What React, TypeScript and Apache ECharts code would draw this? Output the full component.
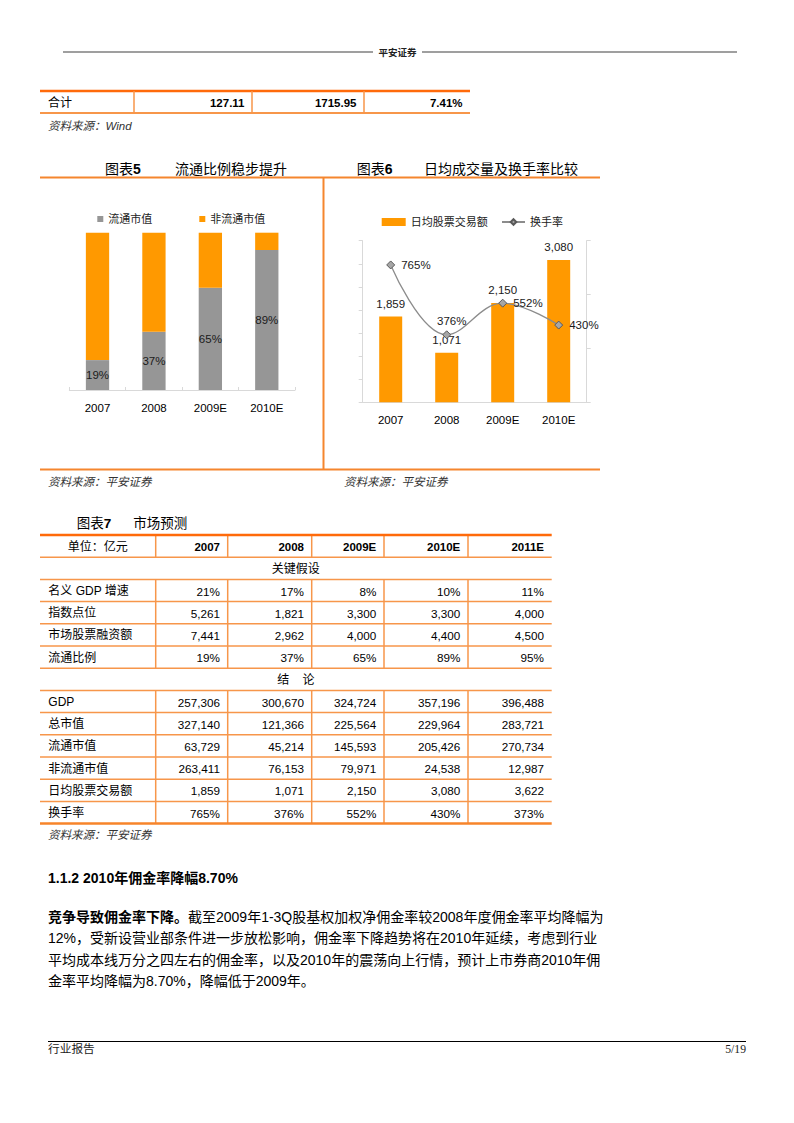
import React, { useEffect, useRef } from "react";
import * as echarts from "echarts";

// ---------- data ----------
const totalRowLabel = "合计";
const totalRowValues = [127.11, 1715.95, 7.41]; // last is percent

const chartYears = ["2007", "2008", "2009E", "2010E"];
const floatRatio = [19, 37, 65, 89]; // 流通市值 %
const nonFloatRatio = [81, 63, 35, 11]; // 非流通市值 %
const dailyTurnover = [1859, 1071, 2150, 3080]; // 日均股票交易额
const turnoverRate = [765, 376, 552, 430]; // 换手率 %

const tableYears = ["2007", "2008", "2009E", "2010E", "2011E"];
const gdpGrowth = [21, 17, 8, 10, 11];
const indexLevel = [5261, 1821, 3300, 3300, 4000];
const equityFinancing = [7441, 2962, 4000, 4400, 4500];
const floatRatioTable = [19, 37, 65, 89, 95];
const gdp = [257306, 300670, 324724, 357196, 396488];
const totalMktCap = [327140, 121366, 225564, 229964, 283721];
const floatMktCap = [63729, 45214, 145593, 205426, 270734];
const nonFloatMktCap = [263411, 76153, 79971, 24538, 12987];
const dailyTurnoverTable = [1859, 1071, 2150, 3080, 3622];
const turnoverRateTable = [765, 376, 552, 430, 373];

// ---------- styling ----------
const FONT = '"Liberation Sans", Arial, "Noto Sans CJK SC", sans-serif';
const ORANGE = "#FF9900";
const GRAY = "#969696";
const LINE_THICK = "#FF6A0A";
const LINE_THIN = "#F7964A";
const FRAME = "#F5862E";

const fmtNum = (v: number) => v.toLocaleString("en-US");
const fmtPct = (v: number) => v + "%";

function txt(x: number, y: number, text: string, o: any = {}) {
  const align = o.align || "left";
  return {
    type: "text",
    x,
    y,
    silent: true,
    z: 10,
    style: {
      text,
      fill: o.color || "#000",
      fontSize: o.size || 12,
      fontFamily: o.family || FONT,
      fontWeight: o.weight || "normal",
      fontStyle: o.fstyle || "normal",
      align,
      textAlign: align,
      verticalAlign: "middle",
      textVerticalAlign: "middle",
      rich: o.rich,
    },
  };
}
function hline(x1: number, x2: number, y: number, color: string, w: number) {
  return { type: "line", silent: true, z: 5, shape: { x1, y1: y, x2, y2: y }, style: { stroke: color, lineWidth: w } };
}
function vline(x: number, y1: number, y2: number, color: string, w: number) {
  return { type: "line", silent: true, z: 5, shape: { x1: x, y1, x2: x, y2 }, style: { stroke: color, lineWidth: w } };
}

function buildGraphics() {
  const g: any[] = [];
  // header
  g.push(hline(63, 373, 52, "#7f7f7f", 1.5));
  g.push(hline(422, 737, 52, "#7f7f7f", 1.5));
  g.push(txt(397.5, 52, "平安证券", { align: "center", size: 9.5, weight: "bold", color: "#222" }));

  // top table (合计)
  const tCols = [40, 134, 252, 364, 470];
  const tTop = 91, tBot = 113;
  g.push(hline(40, 470, tTop, LINE_THICK, 2.5));
  g.push(hline(40, 470, tBot, LINE_THIN, 2));
  for (let i = 1; i < 4; i++) g.push(vline(tCols[i], tTop, tBot, LINE_THIN, 1.5));
  const ty = (tTop + tBot) / 2 + 0.5;
  g.push(txt(48, ty, totalRowLabel, { size: 12 }));
  totalRowValues.forEach((v, i) => {
    const s = i === 2 ? v.toFixed(2) + "%" : v.toFixed(2);
    g.push(txt(tCols[i + 2] - 7.5, ty, s, { align: "right", weight: "bold", size: 11.5 }));
  });
  g.push(txt(48, 125.5, "资料来源：Wind", { fstyle: "italic", color: "#333", size: 11.5 }));

  // chart frames and titles
  g.push(hline(40, 600, 177.5, FRAME, 2));
  g.push(vline(323.5, 177.5, 469.5, FRAME, 2));
  g.push(hline(40, 600, 469.5, FRAME, 2));
  const titleRich = { b: { fontWeight: "bold", fontSize: 14, fontFamily: FONT, fill: "#000" } };
  g.push(txt(105, 169, "图表{b|5}", { size: 14, rich: titleRich }));
  g.push(txt(175, 169, "流通比例稳步提升", { size: 14 }));
  g.push(txt(356.7, 169, "图表{b|6}", { size: 14, rich: titleRich }));
  g.push(txt(424, 169, "日均成交量及换手率比较", { size: 14 }));
  g.push(txt(48, 481.5, "资料来源：平安证券", { fstyle: "italic", color: "#333", size: 11.5 }));
  g.push(txt(344, 481.5, "资料来源：平安证券", { fstyle: "italic", color: "#333", size: 11.5 }));

  // table 7
  g.push(txt(76.7, 523.5, "图表{b|7}", { size: 13.5, rich: { b: { fontWeight: "bold", fontSize: 13.5, fontFamily: FONT, fill: "#000" } } }));
  g.push(txt(133.3, 523.5, "市场预测", { size: 13.5 }));
  const cols = [40, 155.7, 227.7, 311.7, 384, 468, 551.7];
  const top = 535, rh = 22.2;
  type Row = { kind: "header" | "section" | "data"; label: string; values?: number[]; fmt?: (v: number) => string };
  const rows: Row[] = [
    { kind: "header", label: "单位：亿元" },
    { kind: "section", label: "关键假设" },
    { kind: "data", label: "名义 GDP 增速", values: gdpGrowth, fmt: fmtPct },
    { kind: "data", label: "指数点位", values: indexLevel, fmt: fmtNum },
    { kind: "data", label: "市场股票融资额", values: equityFinancing, fmt: fmtNum },
    { kind: "data", label: "流通比例", values: floatRatioTable, fmt: fmtPct },
    { kind: "section", label: "结    论" },
    { kind: "data", label: "GDP", values: gdp, fmt: fmtNum },
    { kind: "data", label: "总市值", values: totalMktCap, fmt: fmtNum },
    { kind: "data", label: "流通市值", values: floatMktCap, fmt: fmtNum },
    { kind: "data", label: "非流通市值", values: nonFloatMktCap, fmt: fmtNum },
    { kind: "data", label: "日均股票交易额", values: dailyTurnoverTable, fmt: fmtNum },
    { kind: "data", label: "换手率", values: turnoverRateTable, fmt: fmtPct },
  ];
  const bottom = top + rows.length * rh;
  rows.forEach((r, i) => {
    const y0 = top + i * rh;
    const y1 = y0 + rh;
    const cy = y0 + rh / 2 + 0.5;
    if (i > 0) g.push(hline(40, 551.7, y0, LINE_THIN, 1.5));
    if (r.kind !== "section") {
      for (let c = 1; c < cols.length - 1; c++) g.push(vline(cols[c], y0, y1, LINE_THIN, 1.5));
    }
    if (r.kind === "header") {
      g.push(txt((cols[0] + cols[1]) / 2, cy, r.label, { align: "center", size: 12 }));
      tableYears.forEach((yr, j) => g.push(txt(cols[j + 2] - 7.7, cy, yr, { align: "right", weight: "bold", size: 11.5 })));
    } else if (r.kind === "section") {
      g.push(txt((cols[0] + cols[cols.length - 1]) / 2, cy, r.label, { align: "center", size: 12 }));
    } else {
      g.push(txt(48.3, cy, r.label, { size: 12 }));
      (r.values || []).forEach((v, j) =>
        g.push(txt(cols[j + 2] - 7.7, cy, r.fmt!(v), { align: "right", size: 11.7 }))
      );
    }
  });
  g.push(hline(40, 551.7, top, LINE_THICK, 2.5));
  g.push(hline(40, 551.7, bottom, "#F7842A", 2.5));
  g.push(txt(48, bottom + 11, "资料来源：平安证券", { fstyle: "italic", color: "#333", size: 11.5 }));

  // section heading and paragraph
  g.push(txt(48, 877.5, "1.1.2 2010年佣金率降幅8.70%", { size: 14, weight: "bold" }));
  const pRich = { b: { fontWeight: "bold", fontSize: 14, fontFamily: FONT, fill: "#000" } };
  const paraLines = [
    "{b|竞争导致佣金率下降。}截至2009年1-3Q股基权加权净佣金率较2008年度佣金率平均降幅为",
    "12%，受新设营业部条件进一步放松影响，佣金率下降趋势将在2010年延续，考虑到行业",
    "平均成本线万分之四左右的佣金率，以及2010年的震荡向上行情，预计上市券商2010年佣",
    "金率平均降幅为8.70%，降幅低于2009年。",
  ];
  paraLines.forEach((l, i) => g.push(txt(48, 917 + i * 21.3, l, { size: 14, rich: pRich })));

  // footer
  g.push(hline(48, 746, 1041.5, "#000", 1));
  g.push(txt(48, 1049, "行业报告", { size: 11.7, color: "#222", family: '"Liberation Serif", "Noto Sans CJK SC", serif' }));
  g.push(txt(746, 1049, "5/19", { size: 11.7, align: "right", color: "#222", family: '"Liberation Serif", serif' }));
  return g;
}

function buildOption(): any {
  const axisGray = "#D9D9D9";
  return {
    animation: false,
    backgroundColor: "#fff",
    textStyle: { fontFamily: FONT },
    legend: [
      {
        data: ["流通市值", "非流通市值"],
        left: 97.3,
        top: 213.5,
        padding: 0,
        icon: "rect",
        itemWidth: 6,
        itemHeight: 6,
        itemGap: 47,
        textStyle: { fontSize: 11, color: "#222", fontFamily: FONT },
      },
      {
        data: ["日均股票交易额"],
        left: 381.7,
        top: 216.5,
        padding: 0,
        icon: "rect",
        itemWidth: 24,
        itemHeight: 8,
        textStyle: { fontSize: 11, color: "#222", fontFamily: FONT },
      },
      {
        data: ["换手率"],
        left: 501,
        top: 216.5,
        padding: 0,
        itemWidth: 23,
        itemHeight: 7,
        textStyle: { fontSize: 11, color: "#222", fontFamily: FONT },
      },
    ],
    grid: [
      { left: 69.3, top: 232.7, width: 225.7, height: 157.3, containLabel: false },
      { left: 362.7, top: 240.7, width: 224, height: 161.6, containLabel: false },
    ],
    xAxis: [
      {
        type: "category",
        gridIndex: 0,
        data: chartYears,
        axisLine: { lineStyle: { color: axisGray, width: 1 } },
        axisTick: { show: true, inside: true, length: 3, lineStyle: { color: axisGray } },
        axisLabel: { color: "#000", fontSize: 11.5, margin: 12, fontFamily: FONT },
      },
      {
        type: "category",
        gridIndex: 1,
        data: chartYears,
        axisLine: { lineStyle: { color: axisGray, width: 1 } },
        axisTick: { show: false },
        axisLabel: { color: "#000", fontSize: 11.5, margin: 12, fontFamily: FONT },
      },
    ],
    yAxis: [
      { type: "value", gridIndex: 0, min: 0, max: 100, show: false },
      {
        type: "value",
        gridIndex: 1,
        min: 0,
        max: 3500,
        interval: 500,
        axisLine: { show: true, lineStyle: { color: axisGray } },
        axisTick: { show: true, length: 4, lineStyle: { color: axisGray } },
        axisLabel: { show: false },
        splitLine: { show: false },
      },
      {
        type: "value",
        gridIndex: 1,
        position: "right",
        min: 0,
        max: 900,
        interval: 300,
        axisLine: { show: true, lineStyle: { color: axisGray } },
        axisTick: { show: true, length: 4, lineStyle: { color: axisGray } },
        axisLabel: { show: false },
        splitLine: { show: false },
      },
    ],
    series: [
      {
        name: "流通市值",
        type: "bar",
        xAxisIndex: 0,
        yAxisIndex: 0,
        stack: "share",
        barWidth: 23.3,
        data: floatRatio,
        itemStyle: { color: GRAY },
        label: { show: true, position: "inside", formatter: "{c}%", color: "#1a1a1a", fontSize: 11.5, fontFamily: FONT },
      },
      {
        name: "非流通市值",
        type: "bar",
        xAxisIndex: 0,
        yAxisIndex: 0,
        stack: "share",
        barWidth: 23.3,
        data: nonFloatRatio,
        itemStyle: { color: ORANGE },
      },
      {
        name: "日均股票交易额",
        type: "bar",
        xAxisIndex: 1,
        yAxisIndex: 1,
        barWidth: 23,
        data: dailyTurnover,
        itemStyle: { color: ORANGE },
        label: {
          show: true,
          position: "top",
          distance: 7,
          color: "#1a1a1a",
          fontSize: 11.5,
          fontFamily: FONT,
          formatter: (p: any) => fmtNum(p.value),
        },
      },
      {
        name: "换手率",
        type: "line",
        xAxisIndex: 1,
        yAxisIndex: 2,
        smooth: 0.4,
        z: 5,
        symbol: "diamond",
        symbolSize: 8,
        data: turnoverRate.map((v, i) =>
          i === 1 ? { value: v, label: { position: "top", distance: 4, offset: [5, 0] } } : v
        ),
        lineStyle: { color: "#8C8C8C", width: 1.3 },
        itemStyle: { color: "#A6A6A6", borderColor: "#595959", borderWidth: 1 },
        label: {
          show: true,
          position: "right",
          distance: 6,
          color: "#1a1a1a",
          fontSize: 11.5,
          fontFamily: FONT,
          formatter: (p: any) => p.value + "%",
        },
      },
    ],
    graphic: buildGraphics(),
  };
}

export default function App() {
  const ref = useRef<HTMLDivElement>(null);
  useEffect(() => {
    if (!ref.current) return;
    const chart = echarts.init(ref.current, undefined, { renderer: "svg" });
    chart.setOption(buildOption());
    return () => chart.dispose();
  }, []);
  return (
    <div
      ref={ref}
      style={{ position: "absolute", left: 0, top: 0, width: 794, height: 1123, background: "#fff" }}
    />
  );
}
